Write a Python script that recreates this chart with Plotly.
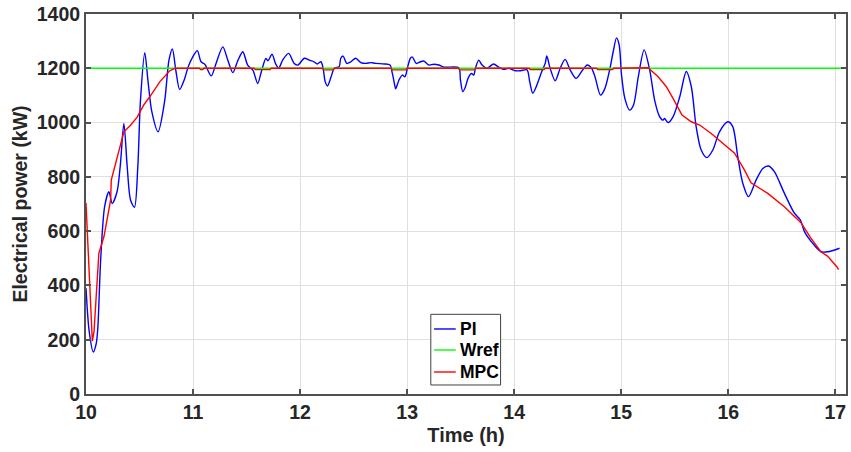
import plotly.graph_objects as go

# PI controller response: time (h) and electrical power (kW)
pi_time = [
    10.000, 10.030, 10.068, 10.095, 10.110, 10.137, 10.174, 10.214, 10.245, 10.290,
    10.320, 10.354, 10.385, 10.416, 10.453, 10.484, 10.509, 10.549, 10.580, 10.615,
    10.673, 10.735, 10.775, 10.807, 10.840, 10.875, 10.920, 10.955, 10.999, 11.040,
    11.075, 11.110, 11.170, 11.215, 11.278, 11.325, 11.372, 11.420, 11.465, 11.510,
    11.560, 11.604, 11.640, 11.680, 11.700, 11.738, 11.770, 11.800, 11.840, 11.893,
    11.945, 11.980, 12.040, 12.086, 12.130, 12.160, 12.195, 12.215, 12.235, 12.256,
    12.290, 12.320, 12.365, 12.380, 12.402, 12.437, 12.474, 12.520, 12.567, 12.614,
    12.660, 12.706, 12.785, 12.840, 12.862, 12.884, 12.893, 12.924, 12.955, 12.980,
    13.002, 13.030, 13.048, 13.085, 13.125, 13.156, 13.203, 13.250, 13.296, 13.343,
    13.482, 13.498, 13.520, 13.545, 13.569, 13.600, 13.622, 13.638, 13.669, 13.700,
    13.746, 13.808, 13.855, 13.901, 13.948, 14.010, 14.060, 14.120, 14.145, 14.174,
    14.212, 14.258, 14.290, 14.305, 14.336, 14.383, 14.430, 14.476, 14.523, 14.578,
    14.630, 14.683, 14.723, 14.755, 14.807, 14.848, 14.895, 14.925, 14.956, 14.981,
    15.003, 15.034, 15.078, 15.115, 15.160, 15.214, 15.266, 15.312, 15.359, 15.390,
    15.405, 15.438, 15.485, 15.547, 15.608, 15.655, 15.700, 15.747, 15.800, 15.856,
    15.918, 15.996, 16.042, 16.089, 16.136, 16.189, 16.260, 16.323, 16.376, 16.431,
    16.525, 16.618, 16.674, 16.712, 16.789, 16.867, 16.930, 17.040,
]
pi_power = [
    390, 230, 155, 185, 240, 494, 690, 745, 702, 745,
    840, 997, 837, 715, 688, 837, 1083, 1257, 1150, 1040,
    966, 1080, 1230, 1271, 1190, 1122, 1160, 1206, 1243, 1265,
    1224, 1215, 1172, 1218, 1279, 1230, 1184, 1230, 1261, 1212,
    1192, 1144, 1190, 1236, 1228, 1252, 1218, 1201, 1232, 1255,
    1218, 1212, 1237, 1230, 1224, 1216, 1224, 1200, 1150, 1135,
    1169, 1200, 1206, 1237, 1245, 1218, 1224, 1237, 1221, 1218,
    1221, 1218, 1216, 1212, 1181, 1138, 1124, 1157, 1175, 1169,
    1200, 1237, 1242, 1218, 1224, 1227, 1212, 1215, 1212, 1204,
    1202, 1157, 1114, 1132, 1163, 1181, 1175, 1200, 1230, 1212,
    1200, 1216, 1204, 1196, 1200, 1191, 1191, 1194, 1151, 1108,
    1138, 1188, 1218, 1245, 1200, 1154, 1200, 1233, 1194, 1163,
    1188, 1212, 1200, 1169, 1101, 1126, 1200, 1261, 1312, 1286,
    1175, 1089, 1046, 1065, 1170, 1268, 1194, 1083, 1022, 1009,
    1015, 1000, 1022, 1095, 1188, 1132, 985, 899, 871, 899,
    966, 1003, 985, 874, 776, 727, 788, 831, 840, 819,
    739, 666, 641, 598, 555, 524, 524, 537,
]

# Reference power setpoint
wref_time = [10.0, 17.1]
wref_power = [1200, 1200]

# MPC controller response
mpc_time = [
    10.000, 10.059, 10.075, 10.120, 10.168, 10.230, 10.236, 10.290, 10.354, 10.416,
    10.478, 10.540, 10.596, 10.689, 10.780, 10.830,
    11.060, 11.070, 11.090, 11.100, 11.570, 11.580, 11.720, 11.730,
    12.210, 12.220, 12.310, 12.320, 12.850, 12.860, 12.990, 13.000,
    13.480, 13.490, 13.630, 13.640, 14.140, 14.150, 14.280, 14.290,
    14.770, 14.780, 14.920, 14.930, 15.251,
    15.345, 15.422, 15.484, 15.568, 15.655, 15.733, 15.841, 15.966, 16.059, 16.152,
    16.213, 16.369, 16.524, 16.679, 16.772, 16.865, 16.927, 17.014, 17.030,
]
mpc_power = [
    704, 195, 230, 518, 580, 715, 788, 868, 966, 990,
    1020, 1065, 1095, 1150, 1190, 1200,
    1200, 1195, 1195, 1200, 1200, 1195, 1195, 1200,
    1200, 1194, 1194, 1200, 1200, 1194, 1194, 1200,
    1200, 1194, 1194, 1200, 1200, 1195, 1195, 1200,
    1200, 1195, 1195, 1200, 1202,
    1169, 1132, 1089, 1028, 1003, 991, 960, 917, 887, 825,
    778, 739, 690, 631, 574, 524, 508, 469, 458,
]

x_ticks = [10, 11, 12, 13, 14, 15, 16, 17]
y_ticks = [0, 200, 400, 600, 800, 1000, 1200, 1400]

series_names = ["PI", "Wref", "MPC"]
series_colors = ["#0000ff", "#00ff00", "#ff0000"]

FONT = "Liberation Sans, Arial, sans-serif"
NARROW = "Liberation Sans Narrow, Arial Narrow, Liberation Sans, sans-serif"
TEXT = "#262626"
AXIS = "#505050"
GRID = "#dfdfdf"

fig = go.Figure()
fig.add_trace(go.Scatter(
    x=pi_time, y=pi_power, mode="lines", name=series_names[0],
    line=dict(color=series_colors[0], width=1.4, shape="spline", smoothing=0.8),
))
fig.add_trace(go.Scatter(
    x=wref_time, y=wref_power, mode="lines", name=series_names[1],
    line=dict(color=series_colors[1], width=1.4),
))
fig.add_trace(go.Scatter(
    x=mpc_time, y=mpc_power, mode="lines", name=series_names[2],
    line=dict(color=series_colors[2], width=1.4),
))

axis_common = dict(
    showline=True, linecolor=AXIS, linewidth=2, mirror="allticks",
    ticks="inside", ticklen=5, tickcolor=AXIS, tickwidth=1.5,
    showgrid=True, gridcolor=GRID, gridwidth=1.2, zeroline=False,
    tickfont=dict(family=FONT, size=19.5, color=TEXT, weight="bold"),
)

fig.update_xaxes(
    range=[10, 17.1], tickvals=x_ticks, ticktext=[str(v) for v in x_ticks],
    title=dict(text="Time (h)", font=dict(family=FONT, size=20, color=TEXT, weight="bold"), standoff=6),
    **axis_common,
)
fig.update_yaxes(
    range=[0, 1400], tickvals=y_ticks, ticktext=[str(v) for v in y_ticks],
    title=dict(text="Electrical power (kW)", font=dict(family=NARROW, size=19.5, color=TEXT, weight="bold"), standoff=4),
    **axis_common,
)

# Compact boxed legend in the lower middle of the axes
legend_box = dict(x0=0.4537, x1=0.5455, y0=0.0237, y1=0.2097)
legend_rows = [0.1711, 0.1158, 0.0579]
fig.add_shape(
    type="rect", xref="paper", yref="paper", layer="above",
    line=dict(color="#404040", width=1), fillcolor="white", **legend_box,
)
for name, color, yrow in zip(series_names, series_colors, legend_rows):
    fig.add_shape(
        type="line", xref="paper", yref="paper", layer="above",
        x0=0.4580, x1=0.4865, y0=yrow, y1=yrow,
        line=dict(color=color, width=1.4),
    )
    fig.add_annotation(
        x=0.4895, y=yrow, xref="paper", yref="paper",
        xanchor="left", yanchor="middle", showarrow=False, text=name,
        font=dict(family=FONT, size=17.5, color="black", weight="bold"),
    )

fig.update_layout(
    width=851, height=452,
    margin=dict(l=86, r=3, t=14, b=58),
    paper_bgcolor="white", plot_bgcolor="white",
    showlegend=False,
)

fig.write_html("out.html")
